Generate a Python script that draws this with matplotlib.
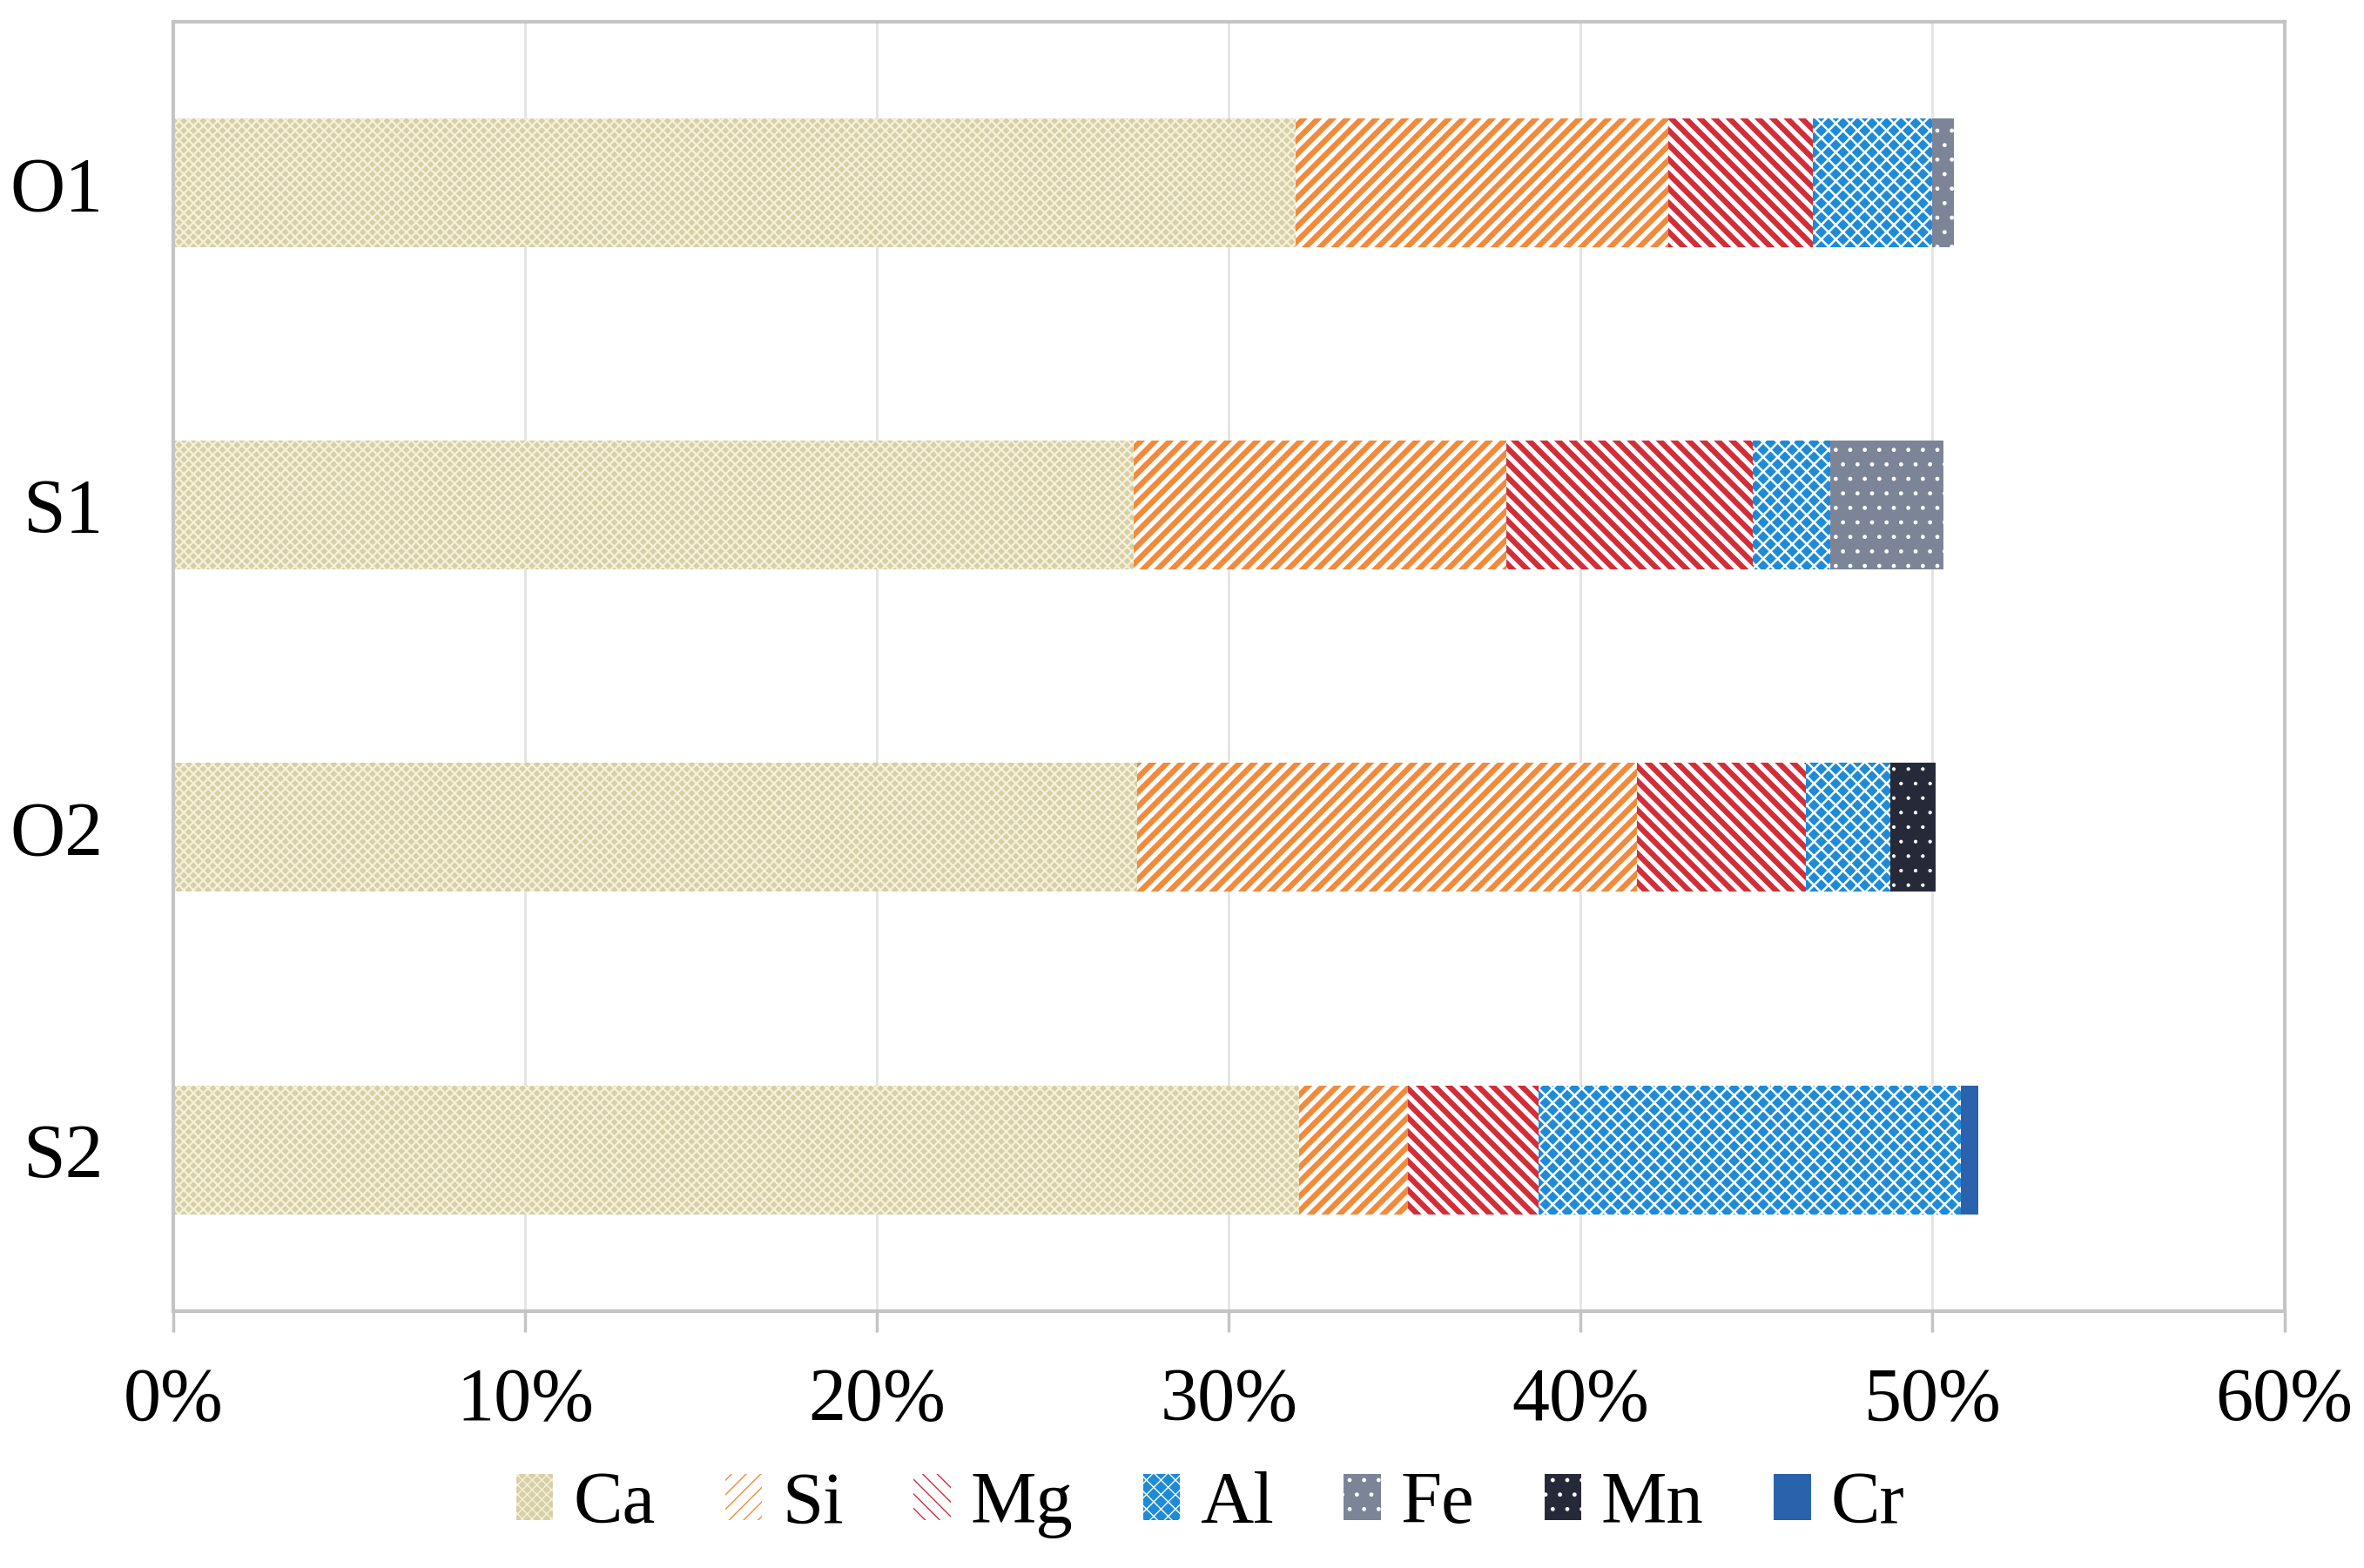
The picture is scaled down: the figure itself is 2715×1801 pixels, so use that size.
import numpy as np
import matplotlib.pyplot as plt
from matplotlib.ticker import PercentFormatter

# образцы и элементы
samples = ['O1', 'S1', 'O2', 'S2']
elements = ['Ca', 'Si', 'Mg', 'Al', 'Fe', 'Mn', 'Cr']

# доли элементов, %
Ca = [31.9, 27.3, 27.4, 32.0]
Si = [10.6, 10.6, 14.2, 3.1]
Mg = [4.1, 7.0, 4.8, 3.7]
Al = [3.4, 2.2, 2.4, 12.0]
Fe = [0.6, 3.2, 0.0, 0.0]
Mn = [0.0, 0.0, 1.3, 0.0]
Cr = [0.0, 0.0, 0.0, 0.5]
values = [Ca, Si, Mg, Al, Fe, Mn, Cr]

# стили: заливка, цвет штриховки, штриховка, толщина штриховки
styles = [
    ('#d6cfa8', '#f6f1d8', 'xxx', 1.6),
    ('white', '#f28a3a', '//', 4.6),
    ('white', '#d22e3a', '\\\\', 4.6),
    ('#1d8bd8', 'white', 'xx', 1.8),
    ('#7c8597', 'white', '.', 1.0),
    ('#262a38', 'white', '.', 0.6),
    ('#2a62ac', '#2a62ac', None, 1.0),
]

plt.rcParams['font.family'] = ['Liberation Serif', 'DejaVu Serif']

fig = plt.figure(figsize=(27.15, 18.01), dpi=100)
ax = fig.add_axes([0.0733, 0.164, 0.893, 0.822])

y = np.arange(len(samples))
left = np.zeros(len(samples))
for name, vals, (fc, hc, h, hlw) in zip(elements, values, styles):
    plt.rcParams['hatch.linewidth'] = hlw
    bars = ax.barh(y, vals, left=left, height=0.4, color=fc, edgecolor=hc,
                   hatch=h, linewidth=0, label=name)
    for b in bars:
        if hasattr(b, 'set_hatch_linewidth'):
            b.set_hatch_linewidth(hlw)
    left += np.array(vals)

ax.set_xlim(0, 60)
ax.set_ylim(3.5, -0.5)
ax.set_xticks(np.arange(0, 61, 10))
ax.xaxis.set_major_formatter(PercentFormatter(decimals=0))
ax.set_yticks(y)
ax.set_yticklabels(samples)
ax.tick_params(axis='y', length=0, pad=58, labelsize=63)
ax.tick_params(axis='x', length=17, width=2.5, color='#c4c4c4', pad=30, labelsize=62)
ax.grid(axis='x', color='#e3e3e3', linewidth=2)
ax.set_axisbelow(True)
for s in ax.spines.values():
    s.set_color('#c4c4c4')
    s.set_linewidth(3)

fig.legend(loc='center', bbox_to_anchor=(0.512, 0.04), ncol=7, frameon=False,
           fontsize=61, handlelength=0.5, handleheight=0.6, handletextpad=0.27,
           columnspacing=0.95)

plt.savefig('out.png', dpi=100)
